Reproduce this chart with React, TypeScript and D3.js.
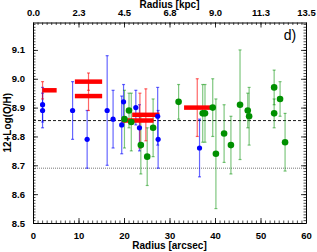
import { axisBottom, axisLeft, axisRight, axisTop, range, scaleLinear, select } from "d3";
import { useEffect, useRef } from "react";

// HII regions (blue), long-slit (green), IFU bins (red)
const blueR = [2.1, 2.1, 8.7, 11.9, 16.3, 17.6, 19.5, 19.9, 22.6, 23.4, 27.4, 27.5, 36.6];
const blueOH = [8.91, 8.89, 8.89, 8.79, 8.89, 8.86, 8.84, 8.92, 8.9, 8.83, 8.87, 8.79, 8.76];
const blueErr = [0.06, 0.06, 0.1, 0.1, 0.19, 0.1, 0.1, 0.06, 0.06, 0.08, 0.1, 0.1, 0.1];

const greenR = [20.1, 21.1, 21.6, 23.7, 25.1, 26.4, 32.0, 37.3, 37.8, 39.5, 40.2, 42.0, 43.5, 45.5, 47.2, 47.5, 53.0, 53.0, 54.3, 55.4];
const greenOH = [8.86, 8.89, 8.85, 8.77, 8.73, 8.83, 8.92, 8.88, 8.88, 8.9, 8.74, 8.81, 8.77, 8.91, 8.89, 8.87, 8.97, 8.88, 8.93, 8.78];
const greenErr = [0.1, 0.06, 0.1, 0.1, 0.1, 0.1, 0.06, 0.1, 0.1, 0.1, 0.19, 0.1, 0.1, 0.19, 0.06, 0.1, 0.06, 0.05, 0.06, 0.1];

const redStart = [2.1, 9.2, 9.2, 21.8, 19.5, 33.2];
const redEnd = [5.2, 15.2, 15.2, 27.8, 26.5, 38.9];
const redOH = [8.96, 8.99, 8.94, 8.875, 8.855, 8.9];
const redErrR = [2.1, 12.2, 12.2, 24.8, 23.5, 36.1];
const redErr = [0.03, 0.03, 0.05, 0.09, 0.095, 0.1];

const meanOH = 8.855;
const solarOH = 8.69;

const arcsecTicks = [0, 10, 20, 30, 40, 50, 60];
const kpcTickLabels = ["0.0", "2.3", "4.5", "6.8", "9.0", "11.3", "13.5"];
const ohTicks = [8.5, 8.6, 8.7, 8.8, 8.9, 9.0, 9.1];

const W = 317;
const H = 252;
const FONT = "'Liberation Sans', Arial, sans-serif";

const App = () => {
  const ref = useRef<SVGSVGElement>(null);

  useEffect(() => {
    if (!ref.current) return;
    const svg = select(ref.current);
    svg.selectAll("*").remove();

    const left = 33, right = 306, top = 22.5, bottom = 223;
    const x = scaleLinear().domain([0, 60]).range([left, right]);
    const y = scaleLinear().domain([8.5, 9.195]).range([bottom, top]);

    // reference lines
    svg.append("line")
      .attr("x1", left).attr("x2", right)
      .attr("y1", y(meanOH)).attr("y2", y(meanOH))
      .attr("stroke", "#000").attr("stroke-width", 0.9).attr("stroke-dasharray", "3,2");
    svg.append("line")
      .attr("x1", left).attr("x2", right)
      .attr("y1", y(solarOH)).attr("y2", y(solarOH))
      .attr("stroke", "#555").attr("stroke-width", 0.8).attr("stroke-dasharray", "1,1");

    const errBars = (g: any, xs: number[], ys: number[], es: number[], color: string, op: number) => {
      const d = xs.map((r, i) => ({ r, v: ys[i], e: es[i] }));
      const grp = g.append("g").attr("stroke", color).attr("stroke-opacity", op).attr("stroke-width", 1.2);
      grp.selectAll(".v").data(d).join("line")
        .attr("x1", (p: any) => x(p.r)).attr("x2", (p: any) => x(p.r))
        .attr("y1", (p: any) => y(p.v - p.e)).attr("y2", (p: any) => y(p.v + p.e));
      [1, -1].forEach((s) => {
        grp.selectAll(".c" + s).data(d).join("line")
          .attr("x1", (p: any) => x(p.r) - 1.5).attr("x2", (p: any) => x(p.r) + 1.5)
          .attr("y1", (p: any) => y(p.v + s * p.e)).attr("y2", (p: any) => y(p.v + s * p.e));
      });
    };

    errBars(svg, blueR, blueOH, blueErr, "#0000ff", 0.6);
    errBars(svg, greenR, greenOH, greenErr, "#009000", 0.5);
    errBars(svg, redErrR, redOH, redErr, "#ff0000", 0.6);

    // red radial bins
    svg.append("g").selectAll("line").data(redOH).join("line")
      .attr("x1", (_, i) => x(redStart[i])).attr("x2", (_, i) => x(redEnd[i]))
      .attr("y1", (d) => y(d)).attr("y2", (d) => y(d))
      .attr("stroke", "#ff0000").attr("stroke-width", 4.5);

    svg.append("g").selectAll("circle").data(greenOH).join("circle")
      .attr("cx", (_, i) => x(greenR[i])).attr("cy", (d) => y(d))
      .attr("r", 3.3).attr("fill", "#009000");

    svg.append("g").selectAll("circle").data(blueOH).join("circle")
      .attr("cx", (_, i) => x(blueR[i])).attr("cy", (d) => y(d))
      .attr("r", 2.6).attr("fill", "#0000ff");

    // axes with IDL-style minor ticks
    const minorX = range(0, 60.01, 1);
    const minorY = range(8.5, 9.195, 0.01);
    const style = (g: any) => {
      g.select(".domain").attr("stroke", "#000").attr("stroke-width", 1);
      g.selectAll("line").attr("stroke", "#000").attr("stroke-width", 0.8);
      g.selectAll("text").attr("font-family", FONT).attr("font-size", 9.5).attr("font-weight", "bold").attr("fill", "#000");
    };
    const minor = (g: any) => {
      g.select(".domain").remove();
      g.selectAll("text").remove();
      g.selectAll("line").attr("stroke", "#000").attr("stroke-width", 0.7);
    };

    svg.append("g").attr("transform", `translate(0,${bottom})`)
      .call(axisBottom(x).tickValues(minorX).tickSize(-2.5).tickFormat(() => "")).call(minor);
    svg.append("g").attr("transform", `translate(0,${bottom})`)
      .call(axisBottom(x).tickValues(arcsecTicks).tickSize(-5).tickPadding(9).tickSizeOuter(0).tickFormat((d) => String(d))).call(style);

    svg.append("g").attr("transform", `translate(0,${top})`)
      .call(axisTop(x).tickValues(minorX).tickSize(-2.5).tickFormat(() => "")).call(minor);
    svg.append("g").attr("transform", `translate(0,${top})`)
      .call(axisTop(x).tickValues(arcsecTicks).tickSize(-5).tickPadding(7).tickSizeOuter(0)
        .tickFormat((_, i) => kpcTickLabels[i])).call(style);

    svg.append("g").attr("transform", `translate(${left},0)`)
      .call(axisLeft(y).tickValues(minorY).tickSize(-2.5).tickFormat(() => "")).call(minor);
    svg.append("g").attr("transform", `translate(${left},0)`)
      .call(axisLeft(y).tickValues(ohTicks).tickSize(-5).tickPadding(8).tickSizeOuter(0).tickFormat((d) => Number(d).toFixed(1))).call(style);

    svg.append("g").attr("transform", `translate(${right},0)`)
      .call(axisRight(y).tickValues(minorY).tickSize(-2.5).tickFormat(() => "")).call(minor);
    svg.append("g").attr("transform", `translate(${right},0)`)
      .call(axisRight(y).tickValues(ohTicks).tickSize(-5).tickSizeOuter(0).tickFormat(() => "")).call(style);

    // titles
    const txt = (t: string, tx: number, ty: number, size: number, rot = 0, weight = "bold") =>
      svg.append("text").text(t)
        .attr("transform", `translate(${tx},${ty}) rotate(${rot})`)
        .attr("text-anchor", "middle").attr("font-family", FONT)
        .attr("font-size", size).attr("font-weight", weight).attr("fill", "#000");

    txt("Radius [arcsec]", (left + right) / 2, 249, 10);
    txt("Radius [kpc]", (left + right) / 2, 8, 10);
    txt("12+Log(O/H)", 11, (top + bottom) / 2, 10, -90);
    txt("d)", 290, 40, 14, 0, "normal");
  }, []);

  return (
    <svg ref={ref} width={W} height={H}
      style={{ position: "absolute", left: 0, top: 0, background: "#fff" }} />
  );
};

export default App;
